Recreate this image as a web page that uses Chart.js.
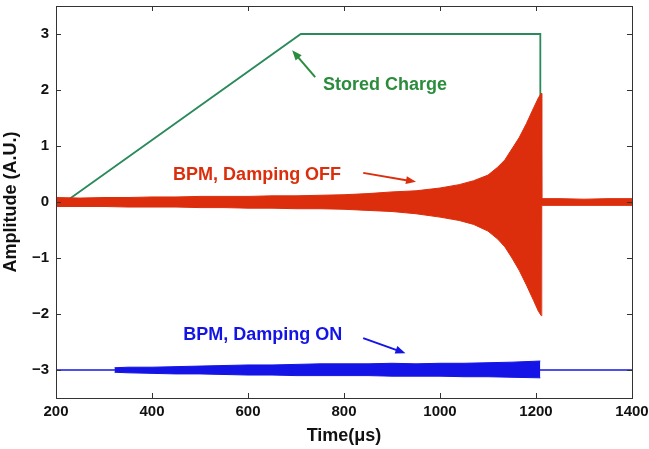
<!DOCTYPE html>
<html>
<head>
<meta charset="utf-8">
<script src="https://cdn.jsdelivr.net/npm/chart.js@4/dist/chart.umd.min.js"></script>
<style>
  body { margin: 0; background: #fff; }
  #wrap { width: 649px; height: 449px; }
</style>
</head>
<body>
<div id="wrap"><canvas id="c" width="649" height="449"></canvas></div>
<script>
// tick labels
const xTicks = [200, 400, 600, 800, 1000, 1200, 1400];
const yTicks = [-3, -2, -1, 0, 1, 2, 3];

// stored charge (green)
const chargeT = [219, 710, 1209, 1209];
const chargeV = [0, 3, 3, 0];

// BPM, damping OFF: envelope of the red trace
const offT = [200, 250, 300, 350, 400, 450, 500, 550, 600, 650, 700, 750, 800, 850, 900, 950, 1000, 1040, 1070, 1100, 1120, 1135, 1150, 1165, 1180, 1195, 1205, 1211, 1212, 1250, 1300, 1350, 1400];
const offUpper = [0.08, 0.07, 0.08, 0.08, 0.09, 0.09, 0.10, 0.10, 0.10, 0.11, 0.11, 0.12, 0.13, 0.15, 0.18, 0.20, 0.25, 0.31, 0.38, 0.48, 0.62, 0.75, 0.95, 1.15, 1.40, 1.68, 1.86, 1.94, 0.06, 0.06, 0.05, 0.06, 0.06];
const offLower = [-0.08, -0.08, -0.08, -0.09, -0.09, -0.09, -0.10, -0.10, -0.11, -0.11, -0.12, -0.12, -0.13, -0.15, -0.17, -0.21, -0.27, -0.33, -0.40, -0.52, -0.66, -0.80, -1.00, -1.22, -1.48, -1.76, -1.95, -2.03, -0.06, -0.06, -0.06, -0.06, -0.06];

// BPM, damping ON: envelope of the blue trace
const onT = [322, 350, 400, 450, 500, 550, 600, 650, 700, 750, 800, 850, 900, 950, 1000, 1050, 1100, 1150, 1209];
const onUpper = [-2.96, -2.95, -2.95, -2.94, -2.93, -2.92, -2.91, -2.91, -2.90, -2.89, -2.89, -2.89, -2.88, -2.89, -2.88, -2.88, -2.87, -2.86, -2.84];
const onLower = [-3.04, -3.05, -3.06, -3.07, -3.07, -3.08, -3.09, -3.09, -3.10, -3.10, -3.10, -3.10, -3.11, -3.11, -3.11, -3.12, -3.12, -3.13, -3.14];
const onBaseT = [200, 1400];
const onBaseV = [-3, -3];

const GREEN_LINE = '#2a8a5c';
const GREEN_TEXT = '#2a8c3c';
const RED = '#dc2e0c';
const BLUE = '#1414e6';
const FONT = '"Liberation Sans", Arial, sans-serif';

const pts = (t, v) => t.map((x, i) => ({ x: x, y: v[i] }));

// annotations, in data units
const notes = [
  { text: 'Stored Charge', x: 756, y: 2.0, color: GREEN_TEXT, arrow: [740, 2.23, 692, 2.71] },
  { text: 'BPM, Damping OFF', x: 444, y: 0.39, color: RED, arrow: [840, 0.52, 950, 0.36] },
  { text: 'BPM, Damping ON', x: 465, y: -2.46, color: BLUE, arrow: [840, -2.43, 928, -2.70] }
];

const frame = {
  id: 'frame',
  afterDatasetsDraw(chart) {
    const ctx = chart.ctx;
    const a = chart.chartArea;
    const xs = chart.scales.x, ys = chart.scales.y;
    ctx.save();
    ctx.strokeStyle = '#333';
    ctx.lineWidth = 1;
    ctx.strokeRect(a.left + 0.5, a.top + 0.5, a.right - a.left, a.bottom - a.top);
    ctx.beginPath();
    xTicks.forEach(v => {
      const px = Math.round(xs.getPixelForValue(v)) + 0.5;
      ctx.moveTo(px, a.bottom); ctx.lineTo(px, a.bottom - 5);
      ctx.moveTo(px, a.top); ctx.lineTo(px, a.top + 5);
    });
    yTicks.forEach(v => {
      const py = Math.round(ys.getPixelForValue(v)) + 0.5;
      ctx.moveTo(a.left, py); ctx.lineTo(a.left + 5, py);
      ctx.moveTo(a.right, py); ctx.lineTo(a.right - 5, py);
    });
    ctx.stroke();

    // text labels + arrows
    ctx.font = 'bold 18px ' + FONT;
    ctx.textBaseline = 'alphabetic';
    notes.forEach(n => {
      ctx.fillStyle = n.color;
      ctx.strokeStyle = n.color;
      ctx.fillText(n.text, xs.getPixelForValue(n.x), ys.getPixelForValue(n.y));
      const x1 = xs.getPixelForValue(n.arrow[0]), y1 = ys.getPixelForValue(n.arrow[1]);
      const x2 = xs.getPixelForValue(n.arrow[2]), y2 = ys.getPixelForValue(n.arrow[3]);
      const ang = Math.atan2(y2 - y1, x2 - x1);
      ctx.lineWidth = 2;
      ctx.beginPath();
      ctx.moveTo(x1, y1);
      ctx.lineTo(x2 - 7 * Math.cos(ang), y2 - 7 * Math.sin(ang));
      ctx.stroke();
      ctx.beginPath();
      ctx.moveTo(x2, y2);
      ctx.lineTo(x2 - 10 * Math.cos(ang) + 4 * Math.sin(ang), y2 - 10 * Math.sin(ang) - 4 * Math.cos(ang));
      ctx.lineTo(x2 - 10 * Math.cos(ang) - 4 * Math.sin(ang), y2 - 10 * Math.sin(ang) + 4 * Math.cos(ang));
      ctx.closePath();
      ctx.fill();
    });
    ctx.restore();
  }
};

new Chart(document.getElementById('c'), {
  type: 'line',
  data: {
    datasets: [
      { data: pts(offT, offUpper), borderColor: RED, backgroundColor: RED, borderWidth: 1, fill: '+1', order: 1 },
      { data: pts(offT, offLower), borderColor: RED, backgroundColor: RED, borderWidth: 1, fill: false, order: 1 },
      { data: pts(onBaseT, onBaseV), borderColor: BLUE, borderWidth: 1.3, fill: false, order: 2 },
      { data: pts(onT, onUpper), borderColor: BLUE, backgroundColor: BLUE, borderWidth: 1, fill: '+1', order: 1 },
      { data: pts(onT, onLower), borderColor: BLUE, backgroundColor: BLUE, borderWidth: 1, fill: false, order: 1 },
      { data: pts(chargeT, chargeV), borderColor: GREEN_LINE, borderWidth: 1.8, fill: false, order: 3 }
    ]
  },
  options: {
    responsive: false,
    animation: false,
    events: [],
    elements: { point: { radius: 0 }, line: { tension: 0 } },
    layout: { padding: { left: 0, right: 17, top: 6, bottom: 0 } },
    plugins: { legend: { display: false }, tooltip: { enabled: false } },
    scales: {
      x: {
        type: 'linear',
        min: 200,
        max: 1400,
        afterBuildTicks: s => { s.ticks = xTicks.map(v => ({ value: v })); },
        afterFit: s => { s.height = 51; s.paddingLeft = 0; s.paddingRight = 0; },
        grid: { display: false, drawTicks: false },
        border: { display: false },
        ticks: { padding: 5, color: '#111', font: { family: FONT, size: 15, weight: 'bold' }, maxRotation: 0, callback: v => String(v) },
        title: { display: true, text: 'Time(\u03bcs)', color: '#111', padding: { top: 0, bottom: 2 }, font: { family: FONT, size: 18, weight: 'bold' } }
      },
      y: {
        min: -3.5,
        max: 3.5,
        afterBuildTicks: s => { s.ticks = yTicks.map(v => ({ value: v })); },
        afterFit: s => { s.width = 56; s.paddingTop = 0; s.paddingBottom = 0; },
        grid: { display: false, drawTicks: false },
        border: { display: false },
        ticks: { padding: 7, color: '#111', font: { family: FONT, size: 15, weight: 'bold' }, callback: v => String(v).replace('-', '\u2212') },
        title: { display: true, text: 'Amplitude (A.U.)', color: '#111', padding: { top: 0, bottom: 7 }, font: { family: FONT, size: 18, weight: 'bold' } }
      }
    }
  },
  plugins: [frame]
});
</script>
</body>
</html>
